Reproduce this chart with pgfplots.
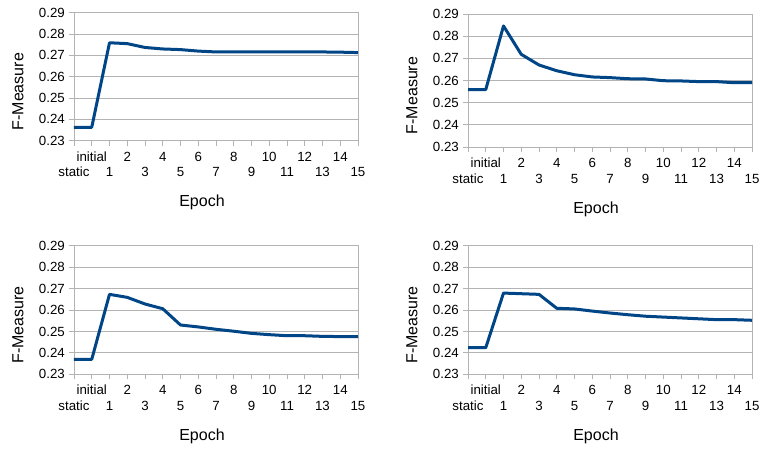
\documentclass[border=0pt]{standalone}
\usepackage{fontspec}
\setmainfont{Liberation Sans}
\usepackage{pgfplots}
\pgfplotsset{compat=1.18}
\definecolor{series}{HTML}{004586}
\definecolor{gridc}{HTML}{B3B3B3}
\pgfplotsset{
  panel/.style={
    scale only axis, width=284pt, anchor=south west,
    xmin=0, xmax=16, ymin=0.23, ymax=0.29,
    ytick={0.23,0.24,0.25,0.26,0.27,0.28,0.29},
    xtick={1,3,5,7,9,11,13,15},
    xticklabels={initial,2,4,6,8,10,12,14},
    extra x ticks={0,2,4,6,8,10,12,14,16},
    extra x tick labels={static,1,3,5,7,9,11,13,15},
    extra x tick style={xticklabel style={yshift=-15.5pt}},
    tick label style={inner sep=0pt, font=\fontsize{13.3}{16}\selectfont},
    xticklabel style={anchor=base, yshift=-15.5pt},
    yticklabel style={anchor=east, xshift=-4pt},
    ymajorgrids,
    major grid style={gridc, line width=0.8pt},
    axis line style={gridc, line width=0.8pt},
    tick style={gridc, line width=0.8pt},
    major tick length=5pt, tick align=outside, tick pos=left,
    ylabel={F-Measure},
    ylabel style={at={([xshift=-56pt,yshift=-15pt]axis description cs:0,0.5)}, anchor=center, font=\fontsize{16}{19}\selectfont},
    xlabel={Epoch},
    xlabel style={at={([xshift=-14pt,yshift=-66pt]axis description cs:0.5,0)}, anchor=base, font=\fontsize{16}{19}\selectfont},
    /pgf/number format/fixed, /pgf/number format/fixed zerofill,
    /pgf/number format/precision=2, /pgf/number format/assume math mode=true,
  },
  curve/.style={series, line width=3pt, line join=round, no marks},
}
\begin{document}
\begin{tikzpicture}
\path[use as bounding box] (0,0) rectangle (763pt,448pt);
% top left
\begin{axis}[panel, height=128pt, at={(74pt,307.3pt)}]
\addplot[curve] coordinates {(0,0.2363) (1,0.2363) (2,0.2759) (3,0.2755) (4,0.2737) (5,0.2730) (6,0.2727) (7,0.2720) (8,0.2716) (9,0.2716) (10,0.2716) (11,0.2716) (12,0.2716) (13,0.2716) (14,0.2716) (15,0.2715) (16,0.2713)};
\end{axis}
% top right
\begin{axis}[panel, height=133pt, at={(468pt,301pt)}]
\addplot[curve] coordinates {(0,0.2559) (1,0.2559) (2,0.2846) (3,0.2718) (4,0.2670) (5,0.2644) (6,0.2626) (7,0.2616) (8,0.2613) (9,0.2608) (10,0.2607) (11,0.2599) (12,0.2598) (13,0.2595) (14,0.2595) (15,0.2590) (16,0.2590)};
\end{axis}
% bottom left
\begin{axis}[panel, height=128.6pt, at={(74pt,73.7pt)}]
\addplot[curve] coordinates {(0,0.2370) (1,0.2370) (2,0.2673) (3,0.2659) (4,0.2628) (5,0.2606) (6,0.2530) (7,0.2521) (8,0.2510) (9,0.2501) (10,0.2491) (11,0.2485) (12,0.2480) (13,0.2480) (14,0.2477) (15,0.2476) (16,0.2476)};
\end{axis}
% bottom right
\begin{axis}[panel, height=128.6pt, at={(468pt,73.7pt)}]
\addplot[curve] coordinates {(0,0.2424) (1,0.2424) (2,0.2679) (3,0.2676) (4,0.2673) (5,0.2608) (6,0.2605) (7,0.2595) (8,0.2586) (9,0.2578) (10,0.2571) (11,0.2567) (12,0.2563) (13,0.2559) (14,0.2555) (15,0.2555) (16,0.2552)};
\end{axis}
\end{tikzpicture}
\end{document}
